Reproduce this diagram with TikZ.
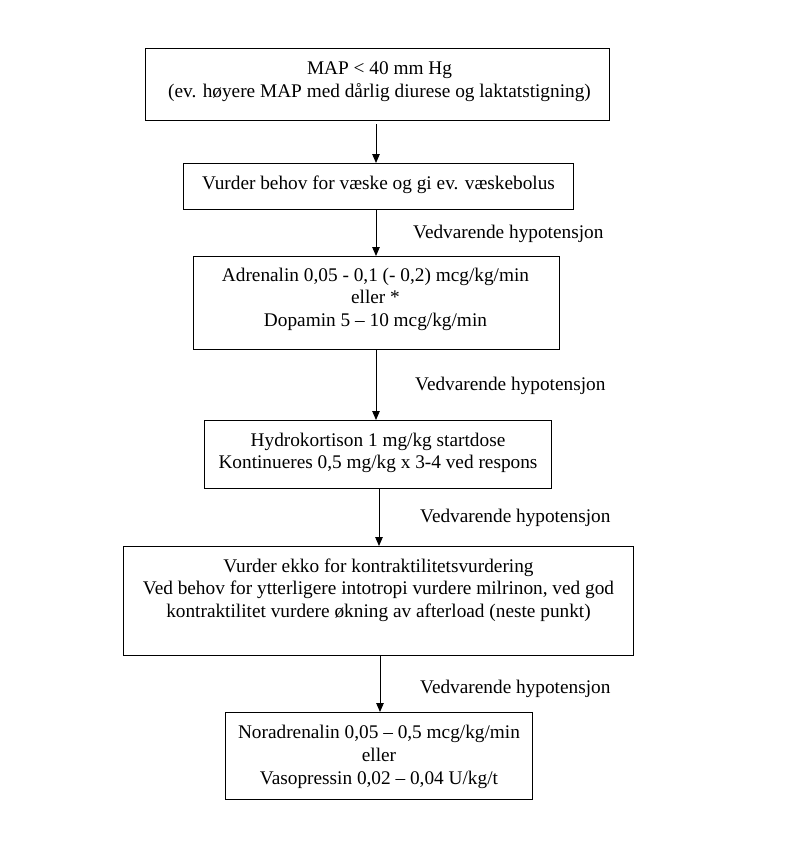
\documentclass[tikz,border=0pt]{standalone}
\usepackage{fontspec}
\setmainfont{Liberation Serif}
\usetikzlibrary{arrows.meta,calc}
\begin{document}
\begin{tikzpicture}[x=1pt,y=-1pt,
  box/.style={draw=black,line width=1pt,inner sep=0pt,anchor=north west},
  boxtext/.style={anchor=north,inner sep=0pt,align=center,font=\fontsize{19.3}{22.7}\selectfont},
  lab/.style={anchor=base west,inner sep=0pt,font=\fontsize{19.3}{22.7}\selectfont},
  arr/.style={line width=0.9pt,-{Triangle[length=9pt,width=7.5pt]}}]
\useasboundingbox[fill=white] (0,0) rectangle (796,844);
% boxes
\node[box,minimum width=464pt,minimum height=72pt] (b1) at (145,48) {};
\node[box,minimum width=390pt,minimum height=46pt] (b2) at (183,163) {};
\node[box,minimum width=366pt,minimum height=93pt] (b3) at (193,256) {};
\node[box,minimum width=347pt,minimum height=68pt] (b4) at (204,420) {};
\node[box,minimum width=510pt,minimum height=109pt] (b5) at (123,546) {};
\node[box,minimum width=307pt,minimum height=87pt] (b6) at (225,712) {};
% texts
\node[boxtext] (t1) at ($(b1.north)+(2,13.5)$) {MAP < 40 mm Hg\\(ev. høyere MAP med dårlig diurese og laktatstigning)};
\node[boxtext] (t2) at ($(b2.north)+(0,12.5)$) {Vurder behov for væske og gi ev. væskebolus};
\node[boxtext] (t3) at ($(b3.north)+(-1,11.5)$) {Adrenalin 0,05 - 0,1 (- 0,2) mcg/kg/min\\eller *\\Dopamin 5 – 10 mcg/kg/min};
\node[boxtext] (t4) at ($(b4.north)+(0,12.5)$) {Hydrokortison 1 mg/kg startdose\\Kontinueres 0,5 mg/kg x 3-4 ved respons};
\node[boxtext] (t5) at ($(b5.north)+(0,12.5)$) {Vurder ekko for kontraktilitetsvurdering\\Ved behov for ytterligere intotropi vurdere milrinon, ved god\\kontraktilitet vurdere økning av afterload (neste punkt)};
\node[boxtext] (t6) at ($(b6.north)+(0,13)$) {Noradrenalin 0,05 – 0,5 mcg/kg/min\\eller\\Vasopressin 0,02 – 0,04 U/kg/t};
% arrow x positions
\coordinate (x1) at (376,0);
\coordinate (x2) at (376,0);
\coordinate (x3) at (376,0);
\coordinate (x4) at (379,0);
\coordinate (x5) at (380,0);
% connectors
\draw[arr,shorten <=3pt] (b1.south -| x1) -- (b2.north -| x1);
\draw[arr] (b2.south -| x2) -- (b3.north -| x2);
\draw[arr] (b3.south -| x3) -- (b4.north -| x3);
\draw[arr] (b4.south -| x4) -- (b5.north -| x4);
\draw[arr] (b5.south -| x5) -- (b6.north -| x5);
% labels
\node[lab] (l1) at (413,238) {Vedvarende hypotensjon};
\node[lab] (l2) at (415,390) {Vedvarende hypotensjon};
\node[lab] (l3) at (420,522) {Vedvarende hypotensjon};
\node[lab] (l4) at (420,693) {Vedvarende hypotensjon};
\end{tikzpicture}
\end{document}
